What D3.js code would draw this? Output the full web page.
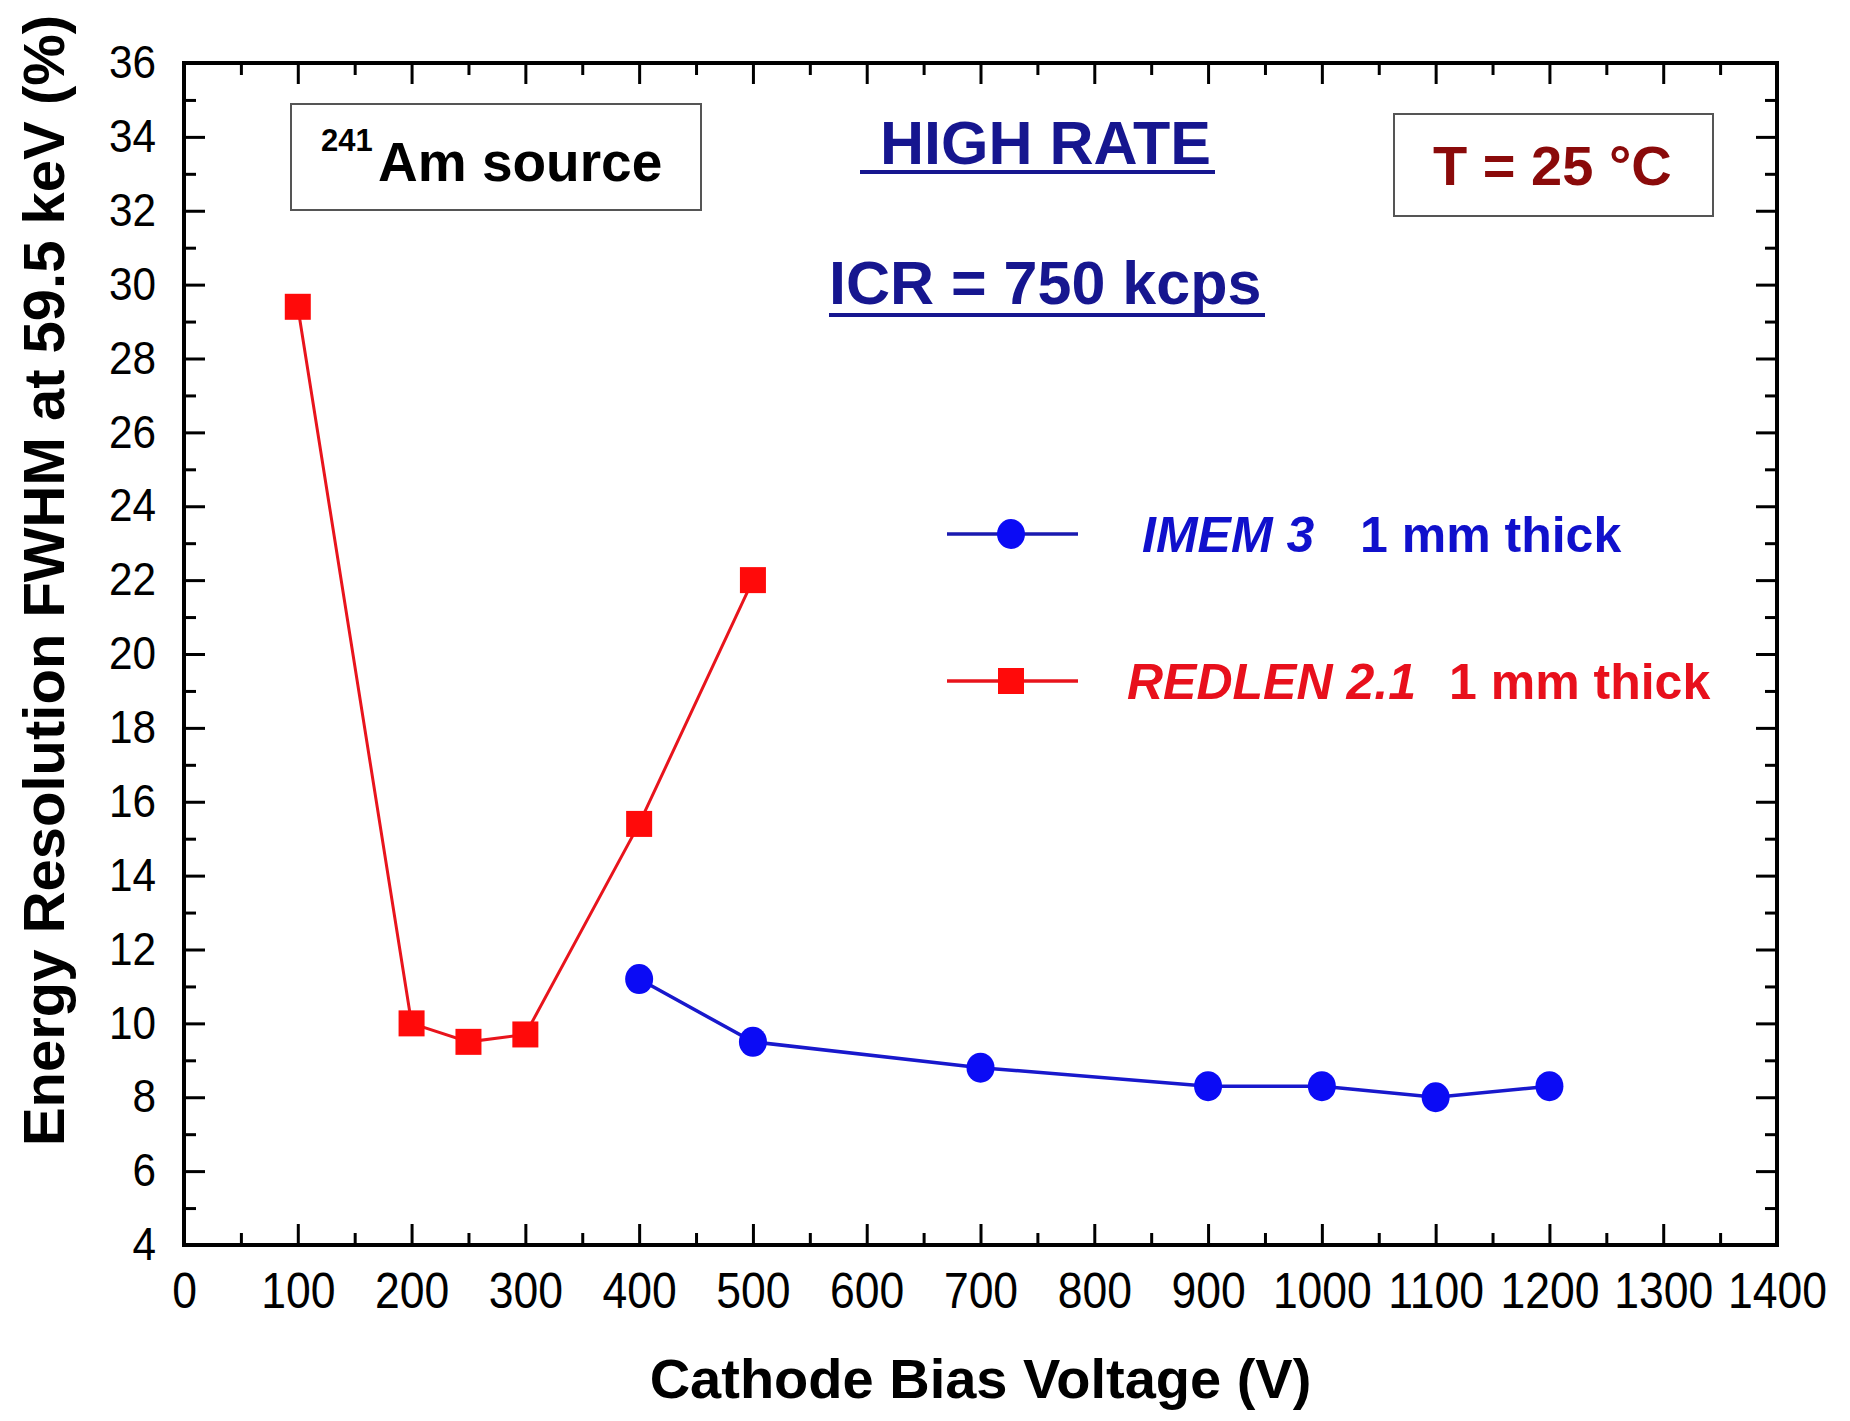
<!DOCTYPE html>
<html><head><meta charset="utf-8">
<script src="https://cdn.jsdelivr.net/npm/d3@7"></script>
<style>body{margin:0;background:#fff} svg text{font-family:"Liberation Sans",Arial,Helvetica,sans-serif}</style>
</head><body><svg id="c" width="1850" height="1421"></svg>
<script>
// ---- data ----
const imemVoltage = [400, 500, 700, 900, 1000, 1100, 1200];
const imemFWHM    = [11.2, 9.5, 8.8, 8.3, 8.3, 8.0, 8.3];
const redlenVoltage = [100, 200, 250, 300, 400, 500];
const redlenFWHM    = [29.4, 10.0, 9.5, 9.7, 15.4, 22.0];
const xTickValues = [0,100,200,300,400,500,600,700,800,900,1000,1100,1200,1300,1400];
const xMinorValues = [50,150,250,350,450,550,650,750,850,950,1050,1150,1250,1350];
const yTickValues = [4,6,8,10,12,14,16,18,20,22,24,26,28,30,32,34,36];
const yMinorValues = [5,7,9,11,13,15,17,19,21,23,25,27,29,31,33,35];
const legendLabels = [["IMEM 3", "1 mm thick"], ["REDLEN 2.1", "1 mm thick"]];
const xTitle = "Cathode Bias Voltage (V)";
const yTitle = "Energy Resolution FWHM at 59.5 keV (%)";

// ---- layout ----
const L = 184, R = 1777, T = 63, B = 1245;
const svg = d3.select("#c");
const x = d3.scaleLinear().domain([0, 1400]).range([L, R]);
const y = d3.scaleLinear().domain([4, 36]).range([B, T]);

const blueM = "#0b0bf5", blueL = "#1818cc", redM = "#ff0a0a", redL = "#e8141c";

function styleAxis(g, w) {
  g.select(".domain").remove();
  g.selectAll("line").attr("stroke", "#000").attr("stroke-width", w);
}
// bottom
const xs = 0.89, ys = 0.92;
const gb = svg.append("g").attr("transform", `translate(0,${B})`)
  .call(d3.axisBottom(x).tickValues(xTickValues).tickSize(-21).tickSizeOuter(0).tickPadding(28).tickFormat(d3.format("d")));
styleAxis(gb, 3);
gb.attr("font-size", 50).attr("font-family", null);
gb.selectAll("text").attr("fill", "#000").attr("transform", `scale(${xs},1)`);
const gbm = svg.append("g").attr("transform", `translate(0,${B})`)
  .call(d3.axisBottom(x).tickValues(xMinorValues).tickSize(-12).tickSizeOuter(0).tickFormat(""));
styleAxis(gbm, 3);
// top
const gt = svg.append("g").attr("transform", `translate(0,${T})`)
  .call(d3.axisTop(x).tickValues(xTickValues).tickSize(-21).tickSizeOuter(0).tickFormat(""));
styleAxis(gt, 3);
const gtm = svg.append("g").attr("transform", `translate(0,${T})`)
  .call(d3.axisTop(x).tickValues(xMinorValues).tickSize(-12).tickSizeOuter(0).tickFormat(""));
styleAxis(gtm, 3);
// left
const gl = svg.append("g").attr("transform", `translate(${L},0)`)
  .call(d3.axisLeft(y).tickValues(yTickValues).tickSize(-21).tickSizeOuter(0).tickPadding(28).tickFormat(d3.format("d")));
styleAxis(gl, 3);
gl.attr("font-size", 46).attr("font-family", null);
gl.selectAll("text").attr("fill", "#000").attr("x", -28 / ys).attr("transform", `scale(${ys},1)`);
const glm = svg.append("g").attr("transform", `translate(${L},0)`)
  .call(d3.axisLeft(y).tickValues(yMinorValues).tickSize(-12).tickSizeOuter(0).tickFormat(""));
styleAxis(glm, 3);
// right
const gr = svg.append("g").attr("transform", `translate(${R},0)`)
  .call(d3.axisRight(y).tickValues(yTickValues).tickSize(-21).tickSizeOuter(0).tickFormat(""));
styleAxis(gr, 3);
const grm = svg.append("g").attr("transform", `translate(${R},0)`)
  .call(d3.axisRight(y).tickValues(yMinorValues).tickSize(-12).tickSizeOuter(0).tickFormat(""));
styleAxis(grm, 3);
// frame
svg.append("rect").attr("x", L).attr("y", T).attr("width", R - L).attr("height", B - T)
  .attr("fill", "none").attr("stroke", "#000").attr("stroke-width", 4);

// titles
svg.append("text").attr("x", (L + R) / 2).attr("y", 1398).attr("text-anchor", "middle")
  .attr("font-size", 56).attr("font-weight", "bold").attr("fill", "#000").text(xTitle);
svg.append("text").attr("transform", `translate(64,${(14 + 1147) / 2}) rotate(-90)`).attr("text-anchor", "middle")
  .attr("font-size", 58).attr("font-weight", "bold").attr("fill", "#000").text(yTitle);

// series
const line = d3.line().x(d => x(d[0])).y(d => y(d[1]));
const redPts = redlenVoltage.map((v, i) => [v, redlenFWHM[i]]);
const bluePts = imemVoltage.map((v, i) => [v, imemFWHM[i]]);
svg.append("path").datum(redPts).attr("d", line).attr("fill", "none").attr("stroke", redL).attr("stroke-width", 3);
svg.append("path").datum(bluePts).attr("d", line).attr("fill", "none").attr("stroke", blueL).attr("stroke-width", 3.5);
const sq = 26;
svg.selectAll("rect.red").data(redPts).enter().append("rect").attr("class", "red")
  .attr("x", d => x(d[0]) - sq / 2).attr("y", d => y(d[1]) - sq / 2).attr("width", sq).attr("height", sq).attr("fill", redM);
svg.selectAll("ellipse.blue").data(bluePts).enter().append("ellipse").attr("class", "blue")
  .attr("cx", d => x(d[0])).attr("cy", d => y(d[1])).attr("rx", 14).attr("ry", 15).attr("fill", blueM);

// legend
const lg = [{yl: 534, c: "#1a1ab0", m: blueM, tc: "#1010cc", x1: 1142, x2: 1360, shape: "circle"},
            {yl: 681, c: redL, m: redM, tc: "#e8101c", x1: 1127, x2: 1449, shape: "square"}];
lg.forEach((o, i) => {
  svg.append("line").attr("x1", 947).attr("x2", 1078).attr("y1", o.yl).attr("y2", o.yl).attr("stroke", o.c).attr("stroke-width", 3.5);
  if (o.shape === "circle") svg.append("ellipse").attr("cx", 1011).attr("cy", o.yl).attr("rx", 14).attr("ry", 15).attr("fill", o.m);
  else svg.append("rect").attr("x", 1011 - 13).attr("y", o.yl - 13).attr("width", 26).attr("height", 26).attr("fill", o.m);
  svg.append("text").attr("x", o.x1).attr("y", o.yl + 18).attr("font-size", 50).attr("font-weight", "bold")
    .attr("font-style", "italic").attr("fill", o.tc).text(legendLabels[i][0]);
  svg.append("text").attr("x", o.x2).attr("y", o.yl + 18).attr("font-size", 50).attr("font-weight", "bold")
    .attr("fill", o.tc).text(legendLabels[i][1]);
});

// annotation boxes
svg.append("rect").attr("x", 291).attr("y", 104).attr("width", 410).attr("height", 106)
  .attr("fill", "#fff").attr("stroke", "#555").attr("stroke-width", 2);
svg.append("text").attr("x", 321).attr("y", 151).attr("font-size", 31).attr("font-weight", "bold").attr("fill", "#000").text("241");
svg.append("text").attr("x", 378).attr("y", 181).attr("font-size", 55).attr("font-weight", "bold").attr("fill", "#000").text("Am source");

svg.append("rect").attr("x", 1394).attr("y", 114).attr("width", 319).attr("height", 102)
  .attr("fill", "#fff").attr("stroke", "#555").attr("stroke-width", 2);
svg.append("text").attr("x", 1433).attr("y", 185).attr("font-size", 56).attr("font-weight", "bold").attr("fill", "#8a0a0a").text("T = 25 °C");

const navy = "#16168f";
svg.append("text").attr("x", 880).attr("y", 164).attr("font-size", 61).attr("font-weight", "bold").attr("fill", navy)
  .text("HIGH RATE");
svg.append("line").attr("x1", 860).attr("x2", 1215).attr("y1", 172).attr("y2", 172).attr("stroke", navy).attr("stroke-width", 4);
svg.append("text").attr("x", 829).attr("y", 304).attr("font-size", 61).attr("font-weight", "bold").attr("fill", navy).text("ICR = 750 kcps");
svg.append("line").attr("x1", 829).attr("x2", 1265).attr("y1", 315).attr("y2", 315).attr("stroke", navy).attr("stroke-width", 4);
</script></body></html>
